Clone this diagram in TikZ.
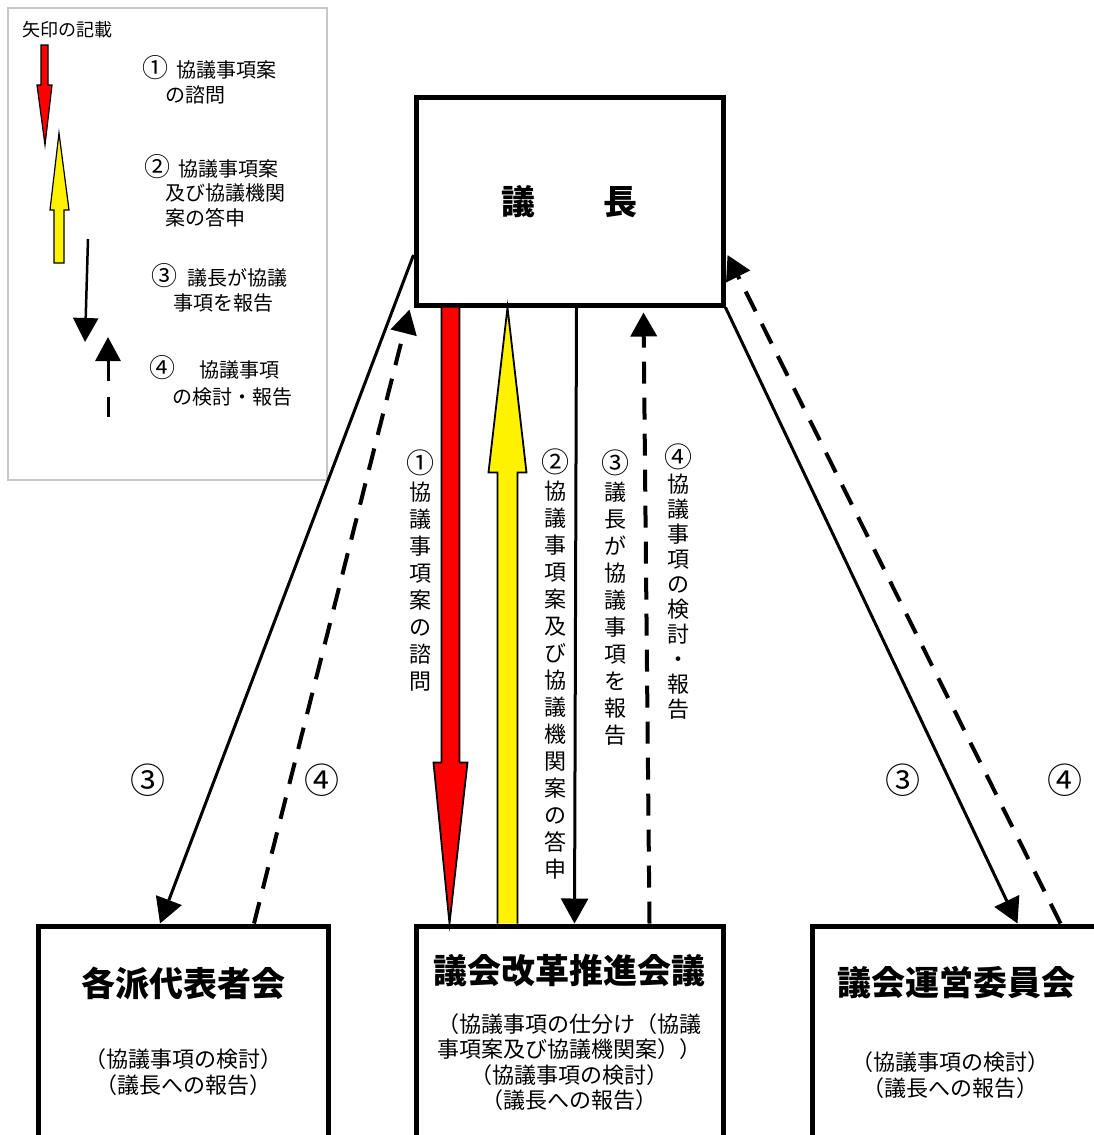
\documentclass[tikz,border=0pt]{standalone}
\usepackage{fontspec}
\setmainfont{Noto Sans CJK JP}
\usetikzlibrary{calc,arrows.meta}
\newcommand\vcn[1]{{\fontsize{28}{27}\selectfont #1}}
\newcommand\lcn[1]{{\fontsize{26}{22}\selectfont #1}}
\begin{document}
\begin{tikzpicture}[x=1pt,y=-1pt,
 box/.style={draw,line width=5pt,rectangle,inner sep=0pt},
 ttl/.style={inner sep=0pt,font=\fontsize{34}{38}\selectfont\bfseries},
 sub/.style={inner sep=0pt,align=center,font=\fontsize{22}{25.5}\selectfont},
 vlab/.style={inner sep=0pt,align=center,font=\fontsize{22}{27}\selectfont},
 num/.style={inner sep=0pt,font=\fontsize{35}{38}\selectfont},
 leg/.style={inner sep=0pt,anchor=west,font=\fontsize{20}{22}\selectfont},
 sol/.style={line width=3pt,-{Triangle[length=25pt,width=27pt]}},
 dsh/.style={line width=4pt,dash pattern=on 22pt off 14pt,-{Triangle[length=24pt,width=26pt]}},
 fatred/.style={fill=red,draw=black,line width=1.8pt,line join=miter},
 fatyel/.style={fill=yellow,draw=black,line width=1.8pt,line join=miter}]
\useasboundingbox (0,0) rectangle (1094,1135);
\clip (0,0) rectangle (1094,1135);
\fill[white] (0,0) rectangle (1094,1135);

% ---------- legend ----------
\draw[black!22,line width=1.5pt] (8,8) rectangle (327,480);
\node[inner sep=0pt,anchor=west,font=\fontsize{18}{20}\selectfont] (legt) at (22,30) {矢印の記載};
\draw[fill=red,draw=black,line width=1.2pt] (41,45) -- (41,85) -- (37,85) -- (45,145) -- (52,85) -- (48,85) -- (48,45) -- cycle;
\draw[fill=yellow,draw=black,line width=1.2pt] (54,263) -- (54,210) -- (50,210) -- (59,133) -- (69,210) -- (64,210) -- (64,263) -- cycle;
\coordinate (l3a) at (88,239);
\coordinate (l3b) at (85,342);
\draw[line width=2.5pt,-{Triangle[length=24pt,width=25pt]}] (l3a) -- (l3b);
\coordinate (l4a) at (108,417);
\coordinate (l4b) at (108,337);
\draw[line width=3pt,dash pattern=on 20pt off 16pt,-{Triangle[length=24pt,width=25pt]}] (l4a) -- (l4b);
\node[leg] (lg1a) at (142,68) {\lcn{①}\hspace{8pt}協議事項案};
\node[leg] (lg1b) at (165,95) {の諮問};
\node[leg] (lg2a) at (144,167) {\lcn{②}\hspace{8pt}協議事項案};
\node[leg] (lg2b) at (165,193) {及び協議機関};
\node[leg] (lg2c) at (165,218) {案の答申};
\node[leg] (lg3a) at (151,276) {\lcn{③}\hspace{10pt}議長が協議};
\node[leg] (lg3b) at (173,303) {事項を報告};
\node[leg] (lg4a) at (149,368) {\lcn{④}\hspace{24pt}協議事項};
\node[leg] (lg4b) at (172,397) {の検討・報告};

% ---------- boxes ----------
\node[box,minimum width=307pt,minimum height=208pt] (chair) at (569.5,201) {};
\node[ttl] (chairt) at (569.5,202) {議　　長};

\node[box,minimum width=290pt,minimum height=218pt] (boxA) at (183.5,1035) {};
\node[ttl] (tA) at (183.5,983) {各派代表者会};
\node[sub] (sA) at (183.5,1072) {（協議事項の検討）\\（議長への報告）};

\node[box,minimum width=307pt,minimum height=218pt] (boxB) at (569.5,1035) {};
\node[ttl] (tB) at (569.5,971) {議会改革推進会議};
\node[sub] (sB) at (569.5,1062) {（協議事項の仕分け（協議\\事項案及び協議機関案））\\（協議事項の検討）\\（議長への報告）};

\node[box,minimum width=288pt,minimum height=218pt] (boxC) at (956,1035) {};
\node[ttl] (tC) at (956,983) {議会運営委員会};
\node[sub] (sC) at (950,1075) {（協議事項の検討）\\（議長への報告）};

% ---------- connectors ----------
\draw[sol] ($(chair.west)+(0,54)$) -- ($(boxA.north west)+(124,0)$);
\draw[dsh] ($(boxA.north west)+(218,0)$) -- ($(chair.south west)+(-4,2)$);

\coordinate (rtop) at ($(chair.south west)+(37,0)$);
\coordinate (rtip) at ($(boxB.north west)+(36,0)$);
\draw[fatred] ($(rtop)+(-9,0)$) -- ($(rtop)+(-9,455)$) -- ($(rtop)+(-17,455)$) -- (rtip) -- ($(rtop)+(17,455)$) -- ($(rtop)+(9,455)$) -- ($(rtop)+(9,0)$);

\coordinate (ybot) at ($(boxB.north west)+(94,0)$);
\coordinate (ytip) at ($(chair.south west)+(94,0)$);
\draw[fatyel] ($(ybot)+(-10,0)$) -- ($(ytip)+(-10,165)$) -- ($(ytip)+(-19,165)$) -- (ytip) -- ($(ytip)+(19,165)$) -- ($(ytip)+(10,165)$) -- ($(ybot)+(10,0)$);

\draw[sol] ($(chair.south west)+(163,0)$) -- ($(boxB.north west)+(161,0)$);
\draw[dsh] ($(boxB.north west)+(236,0)$) -- ($(chair.south west)+(230,5)$);

\draw[sol] (chair.south east) -- ($(boxC.north west)+(208,0)$);
\draw[dsh] ($(boxC.north west)+(251,0)$) -- ($(chair.east)+(2,54)$);

% ---------- labels ----------
\node[vlab] (v1) at (420,571) {\vcn{①}\\協\\議\\事\\項\\案\\の\\諮\\問};
\node[vlab] (v2) at (555,664.5) {\vcn{②}\\協\\議\\事\\項\\案\\及\\び\\協\\議\\機\\関\\案\\の\\答\\申};
\node[vlab] (v3) at (615,597.5) {\vcn{③}\\議\\長\\が\\協\\議\\事\\項\\を\\報\\告};
\node[vlab,font=\fontsize{22}{25}\selectfont] (v4) at (678,582) {\vcn{④}\\協\\議\\事\\項\\の\\検\\討\\・\\報\\告};

\node[num] (n3L) at (148,780) {③};
\node[num] (n4L) at (322,780) {④};
\node[num] (n3R) at (903,780) {③};
\node[num] (n4R) at (1065,780) {④};
\end{tikzpicture}
\end{document}
